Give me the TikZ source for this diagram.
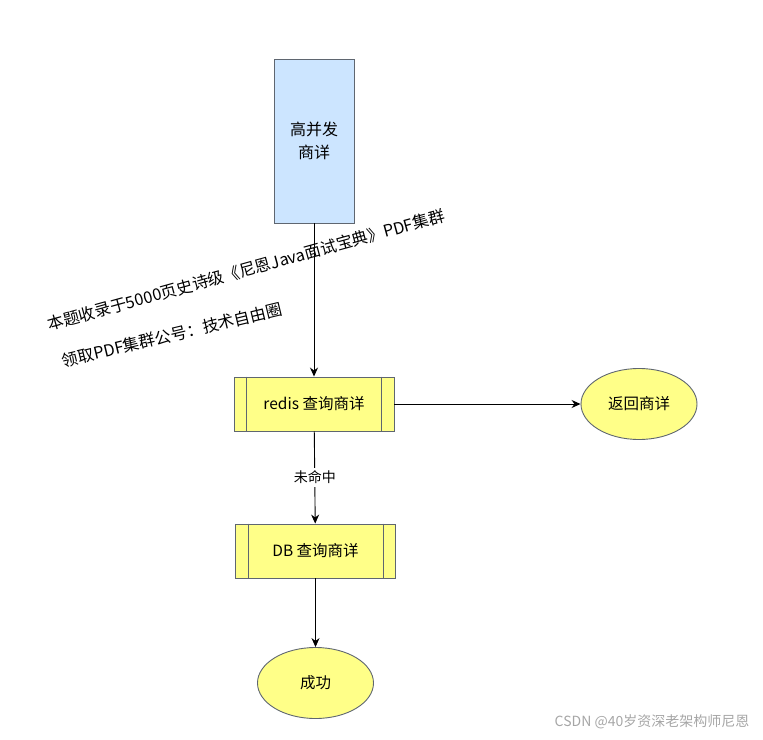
\documentclass[tikz,border=0pt]{standalone}
\usepackage{fontspec}
\setmainfont{Noto Sans CJK SC}
\usetikzlibrary{shapes.geometric,arrows.meta}
\definecolor{boxblue}{HTML}{CCE5FF}
\definecolor{boxyellow}{HTML}{FFFF88}
\definecolor{edgegray}{HTML}{5F6670}
\tikzset{
  flow/.style={-{Stealth[length=9pt,width=8pt]},line width=0.9pt},
  procbox/.style={draw=edgegray,fill=boxyellow,line width=0.9pt,minimum width=160pt,minimum height=54pt,font=\fontsize{15.5}{18}\selectfont},
  endball/.style={ellipse,draw=edgegray,fill=boxyellow,line width=0.9pt,minimum width=116pt,minimum height=71pt,font=\fontsize{15.5}{18}\selectfont},
}
\newlength\sidegap
\setlength\sidegap{13pt}

\begin{document}
\begin{tikzpicture}[x=1pt,y=-1pt]
  \useasboundingbox (0,0) rectangle (763,739);

  % source
  \node[draw=edgegray,fill=boxblue,line width=0.9pt,minimum width=80pt,minimum height=164pt,
        align=center,font=\fontsize{16}{23}\selectfont] (hot) at (314,141) {高并发\\商详};

  % process boxes
  \node[procbox] (redis) at (314,404) {redis 查询商详};
  \node[procbox] (db) at (315.5,551) {DB 查询商详};
  \foreach \b in {redis,db} {
    \draw[edgegray,line width=0.9pt] ([xshift=\sidegap]\b.north west) -- ([xshift=\sidegap]\b.south west);
    \draw[edgegray,line width=0.9pt] ([xshift=-\sidegap]\b.north east) -- ([xshift=-\sidegap]\b.south east);
  }

  % end states
  \node[endball] (ret) at (639,404) {返回商详};
  \node[endball] (ok) at (315.5,683) {成功};

  % connectors
  \draw[flow] (hot) -- (redis);
  \draw[flow] (redis) -- (ret);
  \draw[flow] (redis) -- node[fill=white,font=\fontsize{14}{16}\selectfont] (miss) {未命中} (db);
  \draw[flow] (db) -- (ok);

  % notes
  \node[rotate=15.5,inner sep=0pt,font=\fontsize{16.3}{18}\selectfont] (note1) at (246,270) {本题收录于5000页史诗级《尼恩Java面试宝典》PDF集群};
  \node[rotate=13.5,inner sep=0pt,font=\fontsize{16.3}{18}\selectfont] (note2) at (172,335) {领取PDF集群公号：技术自由圈};

  % watermark
  \node[text=black!35,font=\fontsize{14}{16}\selectfont] (mark) at (652,722) {CSDN @40岁资深老架构师尼恩};
\end{tikzpicture}
\end{document}
